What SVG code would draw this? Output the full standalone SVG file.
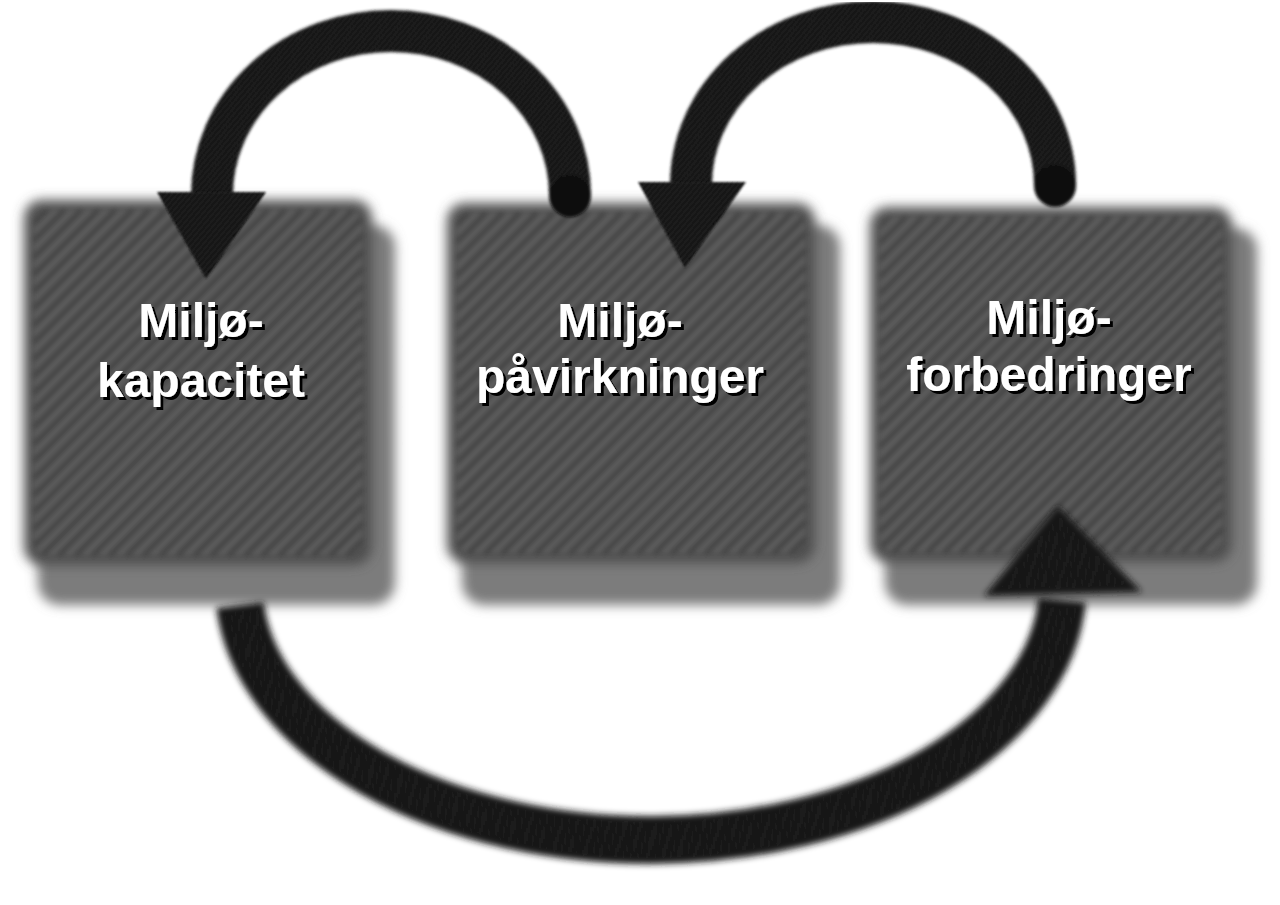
<svg xmlns="http://www.w3.org/2000/svg" width="1280" height="905" viewBox="0 0 1280 905">
<defs>
  <pattern id="hatch" width="12" height="12" patternUnits="userSpaceOnUse" patternTransform="rotate(-45)">
    <rect width="12" height="12" fill="#545454"/>
    <rect width="12" height="4" fill="#3c3c3c"/>
    <rect y="7" width="12" height="2.5" fill="#6c6c6c"/>
  </pattern>
  <pattern id="bandHatch" width="4" height="4" patternUnits="userSpaceOnUse" patternTransform="rotate(-30)">
    <rect width="4" height="4" fill="#8c8c8c"/>
    <rect width="4" height="1.3" fill="#555"/>
  </pattern>
  <pattern id="arrowHatch" width="4" height="4" patternUnits="userSpaceOnUse" patternTransform="rotate(-50)">
    <rect width="4" height="4" fill="#0a0a0a"/>
    <rect width="4" height="0.9" fill="#3a3a3a"/>
  </pattern>
  <filter id="soft" x="-10%" y="-10%" width="120%" height="120%">
    <feGaussianBlur stdDeviation="6"/>
  </filter>
  <filter id="hatchBlur" x="-5%" y="-5%" width="110%" height="110%">
    <feGaussianBlur stdDeviation="2.4"/>
  </filter>
  <filter id="softer" x="-10%" y="-10%" width="120%" height="120%">
    <feGaussianBlur stdDeviation="1.4"/>
  </filter>
  <filter id="arcBlur" x="-10%" y="-20%" width="120%" height="140%">
    <feGaussianBlur stdDeviation="3"/>
  </filter>
  <filter id="tipBlur" x="-20%" y="-20%" width="140%" height="140%">
    <feGaussianBlur stdDeviation="0.8"/>
  </filter>
  <filter id="ts" x="-10%" y="-20%" width="120%" height="140%">
    <feOffset in="SourceAlpha" dx="3" dy="3" result="o"/>
    <feMerge><feMergeNode in="o"/><feMergeNode in="SourceGraphic"/></feMerge>
  </filter>
</defs>
<style>
  .band { fill: url(#bandHatch); filter: url(#soft); }
  .base { fill: #4f4f4f; filter: url(#soft); }
  .face { fill: url(#hatch); filter: url(#hatchBlur); opacity: 0.8; }
  .lbl { font-family: "Liberation Sans", Arial, sans-serif; font-weight: bold; font-size: 48px; text-anchor: middle; fill: #fff; filter: url(#ts); }
  .arc { fill: none; stroke: url(#arrowHatch); stroke-width: 42; }
  .head { fill: url(#arrowHatch); }
</style>
<rect width="1280" height="905" fill="#fff"/>

<g id="node-kapacitet">
  <rect class="band" x="38" y="225" width="357" height="380" rx="22"/>
  <rect class="base" x="24" y="200" width="348" height="365" rx="18"/>
  <rect class="face" x="34" y="210" width="328" height="345" rx="14"/>
  <text class="lbl" x="201" y="337">Miljø-</text>
  <text class="lbl" x="201" y="397">kapacitet</text>
</g>

<g id="node-pavirkninger">
  <rect class="band" x="462" y="225" width="378" height="380" rx="22"/>
  <rect class="base" x="447" y="203" width="368" height="360" rx="18"/>
  <rect class="face" x="457" y="213" width="348" height="340" rx="14"/>
  <text class="lbl" x="620" y="337">Miljø-</text>
  <text class="lbl" x="620" y="393">påvirkninger</text>
</g>

<g id="node-forbedringer">
  <rect class="band" x="885" y="228" width="372" height="377" rx="22"/>
  <rect class="base" x="870" y="207" width="362" height="355" rx="18"/>
  <rect class="face" x="880" y="217" width="342" height="335" rx="14"/>
  <text class="lbl" x="1049" y="334">Miljø-</text>
  <text class="lbl" x="1049" y="391">forbedringer</text>
</g>

<g id="connectors">
  <g filter="url(#softer)">
    <path class="arc" d="M 570 195 A 179 164 0 0 0 212 195"/>
    <circle cx="570" cy="196" r="21" fill="#0a0a0a"/>
    <path class="arc" d="M 1055 185 A 182 163 0 0 0 691 185"/>
    <circle cx="1055" cy="186" r="21" fill="#0a0a0a"/>
  </g>
  <polygon class="head" filter="url(#tipBlur)" points="157,192 266,192 206,279"/>
  <polygon class="head" filter="url(#tipBlur)" points="638,182 746,182 685,268"/>
  <path class="arc" filter="url(#arcBlur)" style="stroke-width:48" d="M 240 605 A 412 255 0 0 0 1062 600"/>
  <polygon class="head" filter="url(#arcBlur)" points="984,596 1142,592 1058,506"/>
</g>
</svg>
